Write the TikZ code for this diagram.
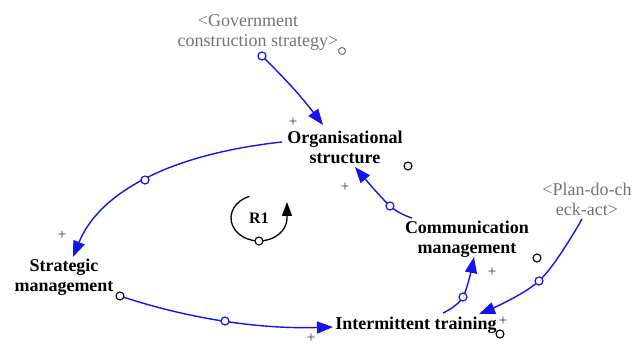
\documentclass[tikz,border=0pt]{standalone}
\usepackage{fontspec}
\setmainfont{Liberation Serif}
\usetikzlibrary{arrows.meta}
\definecolor{linkblue}{RGB}{20,20,235}
\definecolor{shadowgray}{RGB}{115,115,115}
\begin{document}
\begin{tikzpicture}[x=1pt,y=1pt,
  var/.style={font=\fontsize{18}{20}\selectfont\bfseries, align=center, inner sep=0pt, text=black},
  shadowvar/.style={font=\fontsize{18}{20}\selectfont, align=center, inner sep=0pt, text=shadowgray},
  link/.style={draw=linkblue, line width=1.4pt, -{Triangle[length=16pt,width=12pt]}},
  linkdot/.style={circle, draw=linkblue, fill=white, line width=1.2pt, inner sep=0pt, minimum size=8pt},
  poldot/.style={circle, draw=black, fill=white, line width=1.1pt, inner sep=0pt, minimum size=8pt},
  graydot/.style={circle, draw=shadowgray, fill=white, line width=1.0pt, inner sep=0pt, minimum size=7pt},
  plus/.style={font=\fontsize{15}{15}\selectfont, text=black!80, inner sep=0pt},
  loopline/.style={draw=black, line width=1.3pt, -{Triangle[length=14pt,width=10pt]}}
]
\useasboundingbox (0,0) rectangle (641,345);

% variables
\node[shadowvar] (gov) at (258,313) {<Government\hspace*{20pt}\\construction strategy>};
\node[var] (org) at (345,198) {Organisational\\structure};
\node[var] (strat) at (64,68) {Strategic\\management};
\node[var] (comm) at (467,106) {Communication\\management};
\node[var] (inter) at (416,20) {Intermittent training};
\node[shadowvar] (plan) at (587,146) {<Plan-do-ch\\eck-act>};

% connector ends
\coordinate (g1) at (262,289);
\coordinate (o1) at (323,220);
\coordinate (o2) at (282,203);
\coordinate (m2) at (145,165);
\coordinate (s2) at (73,88);
\coordinate (s3) at (120,49);
\coordinate (m3) at (225,24);
\coordinate (i3) at (333,18);
\coordinate (i4) at (443,32);
\coordinate (m4) at (463,48);
\coordinate (c4) at (474,88);
\coordinate (c5) at (412,127);
\coordinate (m5) at (390,139);
\coordinate (o5) at (355,178);
\coordinate (p6) at (582,126);
\coordinate (m6) at (539,64);
\coordinate (i6) at (479,31);

% links
\draw[link] (g1) to[bend left=4] (o1);
\node[linkdot] at (g1) {};
\draw[link] (o2) .. controls (169,190.7) and (99.3,152.3) .. (s2);
\node[linkdot] at (m2) {};
\draw[link] (s3) .. controls (189,26) and (260,15.7) .. (i3);
\node[linkdot] at (m3) {};
\node[poldot] at (s3) {};
\draw[link] plot[smooth, tension=0.6] coordinates {(i4) (m4) (c4)};
\node[linkdot] at (m4) {};
\draw[link] plot[smooth, tension=0.6] coordinates {(c5) (m5) (o5)};
\node[linkdot] at (m5) {};
\draw[link] plot[smooth, tension=0.6] coordinates {(p6) (m6) (i6)};
\node[linkdot] at (m6) {};

% polarity marks
\node[plus] at (293,223) {+};
\node[plus] at (345,158) {+};
\node[plus] at (62,110) {+};
\node[plus] at (311,7) {+};
\node[plus] at (492,73) {+};
\node[plus] at (503,24) {+};
\node[poldot] at (408,179) {};
\node[poldot] at (537,87) {};
\node[poldot] at (500,11) {};
\node[graydot] at (342,294) {};

% loop R1
\coordinate (r) at (259,127);
\node[font=\fontsize{16}{16}\selectfont\bfseries, inner sep=0pt] (r1) at (r) {R1};
\draw[loopline] ([shift={(110:28pt and 23pt)}]r) arc[start angle=110, end angle=360, x radius=28pt, y radius=23pt] -- ++(0,16);
\node[poldot] at (259,104) {};
\end{tikzpicture}
\end{document}
